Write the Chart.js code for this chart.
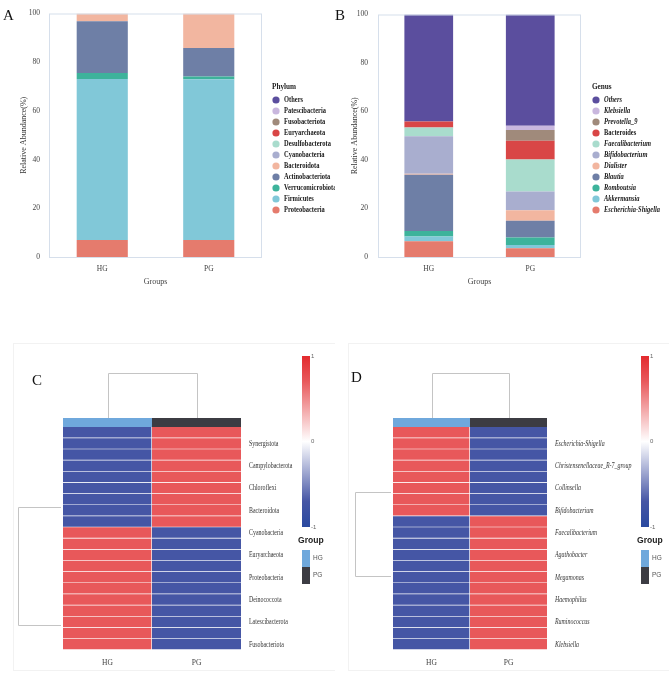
<!DOCTYPE html>
<html>
<head>
<meta charset="utf-8">
<script src="https://cdn.jsdelivr.net/npm/chart.js@4.4.1/dist/chart.umd.min.js"></script>
<style>
  html, body { margin: 0; padding: 0; background: #fff; }
  #wrap { position: relative; width: 669px; height: 676px; }
  canvas { position: absolute; }
</style>
</head>
<body>
<div id="wrap">
  <canvas id="chartA" width="335" height="300" style="left:0;top:0"></canvas>
  <canvas id="chartB" width="334" height="300" style="left:335px;top:0"></canvas>
  <canvas id="chartC" width="335" height="376" style="left:0;top:300px"></canvas>
  <canvas id="chartD" width="334" height="376" style="left:335px;top:300px"></canvas>
</div>
<script>
const groups = ['HG', 'PG'];

// A - phylum level relative abundance (bottom of stack first)
const phylumNames = ['Proteobacteria', 'Firmicutes', 'Verrucomicrobiota', 'Actinobacteriota', 'Bacteroidota',
  'Cyanobacteria', 'Desulfobacterota', 'Euryarchaeota', 'Fusobacteriota', 'Patescibacteria', 'Others'];
const phylumHG = [7.0, 66.1, 2.5, 21.2, 3.2, 0, 0, 0, 0, 0, 0];
const phylumPG = [7.0, 66.0, 1.1, 11.7, 14.2, 0, 0, 0, 0, 0, 0];

// B - genus level relative abundance
const genusNames = ['Escherichia-Shigella', 'Akkermansia', 'Romboutsia', 'Blautia', 'Dialister',
  'Bifidobacterium', 'Faecalibacterium', 'Bacteroides', 'Prevotella_9', 'Klebsiella', 'Others'];
const genusHG = [6.5, 2.0, 2.2, 23.2, 0.4, 15.5, 3.6, 2.5, 0, 0, 44.1];
const genusPG = [3.6, 1.3, 3.1, 7.0, 4.3, 7.7, 13.2, 7.7, 4.5, 1.7, 45.9];
const genusItalic = [true, true, true, true, true, true, true, false, true, true, true];

// shared palette, same order as the stacks
const stackColors = ['#e57b6d', '#81c8d8', '#3db39b', '#6e7fa6', '#f2b6a0',
  '#a9aecf', '#a9dccd', '#d94646', '#a08a7b', '#c9b7de', '#5b4e9e'];

// C - phylum heatmap (z-scores, rows top to bottom)
const rowsC = ['', 'Synergistota', '', 'Campylobacterota', '', 'Chloroflexi', '', 'Bacteroidota', '', 'Cyanobacteria',
  '', 'Euryarchaeota', '', 'Proteobacteria', '', 'Deinococcota', '', 'Latescibacterota', '', 'Fusobacteriota'];
const zHG_C = [-0.71, -0.71, -0.71, -0.71, -0.71, -0.71, -0.71, -0.71, -0.71, 0.71,
  0.71, 0.71, 0.71, 0.71, 0.71, 0.71, 0.71, 0.71, 0.71, 0.71];
const zPG_C = [0.71, 0.71, 0.71, 0.71, 0.71, 0.71, 0.71, 0.71, 0.71, -0.71,
  -0.71, -0.71, -0.71, -0.71, -0.71, -0.71, -0.71, -0.71, -0.71, -0.71];

// D - genus heatmap
const rowsD = ['', 'Escherichia-Shigella', '', 'Christensenellaceae_R-7_group', '', 'Collinsella', '', 'Bifidobacterium', '', 'Faecalibacterium',
  '', 'Agathobacter', '', 'Megamonas', '', 'Haemophilus', '', 'Ruminococcus', '', 'Klebsiella'];
const zHG_D = [0.71, 0.71, 0.71, 0.71, 0.71, 0.71, 0.71, 0.71, -0.71, -0.71,
  -0.71, -0.71, -0.71, -0.71, -0.71, -0.71, -0.71, -0.71, -0.71, -0.71];
const zPG_D = [-0.71, -0.71, -0.71, -0.71, -0.71, -0.71, -0.71, -0.71, 0.71, 0.71,
  0.71, 0.71, 0.71, 0.71, 0.71, 0.71, 0.71, 0.71, 0.71, 0.71];

const colorbarTicks = [1, 0, -1];
const groupColors = ['#6fa8dc', '#3c3c43'];

const SERIF = "'Liberation Serif', 'DejaVu Serif', serif";
const SANS = "'Liberation Sans', Arial, sans-serif";

// blue - white - red ramp
const ramp = [[-1, [42, 73, 160]], [-0.7, [70, 86, 165]], [0, [255, 255, 255]], [0.7, [232, 90, 92]], [1, [227, 42, 46]]];
function heatColor(v) {
  for (let i = 1; i < ramp.length; i++) {
    if (v <= ramp[i][0]) {
      const [v0, c0] = ramp[i - 1];
      const [v1, c1] = ramp[i];
      const t = (v - v0) / (v1 - v0);
      const c = c0.map((x, k) => Math.round(x + (c1[k] - x) * t));
      return `rgb(${c[0]},${c[1]},${c[2]})`;
    }
  }
  return 'rgb(227,42,46)';
}

function drawLetter(ctx, letter, x, y) {
  ctx.save();
  ctx.fillStyle = '#111';
  ctx.font = `15px ${SERIF}`;
  ctx.textBaseline = 'alphabetic';
  ctx.fillText(letter, x, y);
  ctx.restore();
}

// narrow text, the original figure uses a condensed face
function narrowText(ctx, text, x, y, squeeze) {
  ctx.save();
  ctx.translate(x, y);
  ctx.scale(squeeze, 1);
  ctx.fillText(text, 0, 0);
  ctx.restore();
}

// frame round the plot, legend on the right, panel letter
const stackExtras = {
  id: 'stackExtras',
  afterDraw(chart, args, o) {
    const { ctx, chartArea: a } = chart;
    ctx.save();
    ctx.strokeStyle = '#d6dfeb';
    ctx.lineWidth = 1;
    ctx.strokeRect(a.left + 0.5, a.top + 0.5, a.right - a.left - 1, a.bottom - a.top);

    ctx.fillStyle = '#222';
    ctx.font = `bold 8.5px ${SERIF}`;
    ctx.textBaseline = 'middle';
    narrowText(ctx, o.title, o.titleX, 87, 0.85);
    const ds = chart.data.datasets;
    for (let k = 0; k < ds.length; k++) {
      const i = ds.length - 1 - k;
      const y = 100 + k * 11;
      ctx.fillStyle = ds[i].backgroundColor;
      ctx.beginPath();
      ctx.arc(o.dotX, y, 3.6, 0, Math.PI * 2);
      ctx.fill();
      ctx.fillStyle = '#1a1a1a';
      const it = o.italic && o.italic[i];
      ctx.font = `${it ? 'italic ' : ''}bold 8.5px ${SERIF}`;
      narrowText(ctx, ds[i].label, o.dotX + 8, y, 0.76);
    }
    ctx.restore();
    drawLetter(ctx, o.letter, o.letterX, 20);
  }
};

function stackedBar(id, names, hg, pg, o) {
  return new Chart(document.getElementById(id), {
    type: 'bar',
    data: {
      labels: groups,
      datasets: names.map((name, i) => ({
        label: name,
        data: [hg[i], pg[i]],
        backgroundColor: stackColors[i],
        borderWidth: 0,
        barPercentage: 0.48,
        categoryPercentage: 1
      }))
    },
    options: {
      responsive: false,
      animation: false,
      layout: { padding: { top: 10, right: o.right, left: 0, bottom: 0 } },
      scales: {
        x: {
          stacked: true,
          grid: { display: false, drawTicks: false },
          border: { display: false },
          ticks: { font: { family: SERIF, size: 7.5 }, color: '#444', padding: 8 },
          title: { display: true, text: 'Groups', font: { family: SERIF, size: 8 }, color: '#444', padding: { top: 0, bottom: 13 } },
          afterFit: s => { s.height = 43; }
        },
        y: {
          stacked: true,
          min: 0,
          max: 100,
          ticks: { stepSize: 20, font: { family: SERIF, size: 7.5 }, color: '#444', padding: o.tickPad },
          grid: { display: false, drawTicks: false },
          border: { display: false },
          title: { display: true, text: 'Relative Abundance(%)', font: { family: SERIF, size: 8 }, color: '#333', padding: { top: o.titlePad, bottom: 0 } },
          afterFit: s => { s.width = o.left; }
        }
      },
      plugins: {
        legend: { display: false },
        tooltip: { enabled: false },
        stackExtras: o.legend
      }
    },
    plugins: [stackExtras]
  });
}

stackedBar('chartA', phylumNames, phylumHG, phylumPG, {
  left: 49, right: 73, tickPad: 9, titlePad: 19,
  legend: { title: 'Phylum', titleX: 272, dotX: 276, letter: 'A', letterX: 3 }
});
stackedBar('chartB', genusNames, genusHG, genusPG, {
  left: 43, right: 88, tickPad: 10, titlePad: 15,
  legend: { title: 'Genus', titleX: 257, dotX: 261, italic: genusItalic, letter: 'B', letterX: 0 }
});

// group strip, dendrograms, row names, colour bar and group key
const heatExtras = {
  id: 'heatExtras',
  afterDraw(chart, args, o) {
    const { ctx, chartArea: a, scales: { x, y } } = chart;
    ctx.save();
    // faint panel frame
    ctx.strokeStyle = '#f2f2f2';
    ctx.lineWidth = 1;
    ctx.strokeRect(o.frameX + 0.5, 43.5, chart.width, 327);

    // group strip
    groups.forEach((g, c) => {
      const x0 = x.getPixelForValue(c);
      const x1 = x.getPixelForValue(c + 1);
      ctx.fillStyle = groupColors[c];
      ctx.fillRect(x0, a.top - 9, x1 - x0, 9);
    });

    // row names, placed on the category scale
    ctx.fillStyle = '#333';
    ctx.font = `${o.italic ? 'italic ' : ''}8px ${SERIF}`;
    ctx.textBaseline = 'middle';
    chart.data.labels.forEach((name, i) => {
      if (name) narrowText(ctx, name, a.right + 8, y.getPixelForValue(i), 0.74);
    });

    // column dendrogram
    ctx.strokeStyle = '#c4c4c4';
    ctx.lineWidth = 1;
    const cx0 = Math.round(x.getPixelForValue(0.5)) + 0.5;
    const cx1 = Math.round(x.getPixelForValue(1.5)) + 0.5;
    const top = a.top - 53.5;
    ctx.beginPath();
    ctx.moveTo(cx0, a.top - 9);
    ctx.lineTo(cx0, top);
    ctx.lineTo(cx1, top);
    ctx.lineTo(cx1, a.top - 9);
    ctx.stroke();

    // row dendrogram
    const ry0 = Math.round(y.getPixelForValue(o.rowJoin[0])) + 0.5;
    const ry1 = Math.round(y.getPixelForValue(o.rowJoin[1])) + 0.5;
    const lx = Math.round(a.left - o.rowDepth) + 0.5;
    ctx.beginPath();
    ctx.moveTo(a.left - 2, ry0);
    ctx.lineTo(lx, ry0);
    ctx.lineTo(lx, ry1);
    ctx.lineTo(a.left - 2, ry1);
    ctx.stroke();

    // colour bar
    const bx = o.barX, bt = 56, bb = 227;
    const grad = ctx.createLinearGradient(0, bt, 0, bb);
    ramp.forEach(([v, c]) => grad.addColorStop((1 - v) / 2, `rgb(${c[0]},${c[1]},${c[2]})`));
    ctx.fillStyle = grad;
    ctx.fillRect(bx, bt, 8, bb - bt);
    ctx.fillStyle = '#666';
    ctx.font = `6px ${SANS}`;
    colorbarTicks.forEach(v => {
      ctx.fillText(String(v), bx + 9, bt + (1 - v) / 2 * (bb - bt));
    });

    // group key
    ctx.fillStyle = '#222';
    ctx.font = `bold 9.5px ${SANS}`;
    narrowText(ctx, 'Group', bx - 4, 240, 0.9);
    groups.forEach((g, c) => {
      ctx.fillStyle = groupColors[c];
      ctx.fillRect(bx, 250 + c * 17, 8, 17);
      ctx.fillStyle = '#555';
      ctx.font = `6.5px ${SANS}`;
      ctx.fillText(g, bx + 11, 258 + c * 17);
    });
    ctx.restore();
    drawLetter(ctx, o.letter, o.letterX, o.letterY);
  }
};

function heatmap(id, rows, zHG, zPG, o) {
  const cols = [zHG, zPG];
  return new Chart(document.getElementById(id), {
    type: 'bar',
    data: {
      labels: rows,
      datasets: cols.map((z, c) => ({
        label: groups[c],
        data: z.map(() => [c, c + 1]),
        backgroundColor: z.map(heatColor),
        borderColor: 'rgba(255,255,255,0.1)',
        borderWidth: { top: 0, left: 0, right: c === 0 ? 1 : 0, bottom: 1 },
        borderSkipped: false,
        grouped: false,
        barPercentage: 1,
        categoryPercentage: 1
      }))
    },
    options: {
      indexAxis: 'y',
      responsive: false,
      animation: false,
      layout: { padding: { left: o.left, top: 127, right: 0, bottom: 0 } },
      scales: {
        x: {
          type: 'linear',
          min: 0,
          max: 2,
          afterBuildTicks: s => { s.ticks = [{ value: 0.5 }, { value: 1.5 }]; },
          ticks: { callback: v => groups[Math.floor(v)], font: { family: SERIF, size: 7.5 }, color: '#444', padding: 9 },
          grid: { display: false, drawTicks: false },
          border: { display: false },
          afterFit: s => { s.height = 26; }
        },
        y: {
          position: 'right',
          grid: { display: false, drawTicks: false },
          border: { display: false },
          ticks: { display: false },
          afterFit: s => { s.width = o.axisWidth; }
        }
      },
      plugins: {
        legend: { display: false },
        tooltip: { enabled: false },
        heatExtras: Object.assign({ italic: o.italic }, o.extras)
      }
    },
    plugins: [heatExtras]
  });
}

heatmap('chartC', rowsC, zHG_C, zPG_C, {
  left: 63, axisWidth: 94, italic: false,
  extras: { rowJoin: [6.67, 17.26], rowDepth: 45, barX: 302, letter: 'C', letterX: 32, letterY: 85, frameX: 13 }
});
heatmap('chartD', rowsD, zHG_D, zPG_D, {
  left: 58, axisWidth: 122, italic: true,
  extras: { rowJoin: [5.33, 12.86], rowDepth: 38, barX: 306, letter: 'D', letterX: 16, letterY: 82, frameX: 13 }
});
</script>
</body>
</html>
